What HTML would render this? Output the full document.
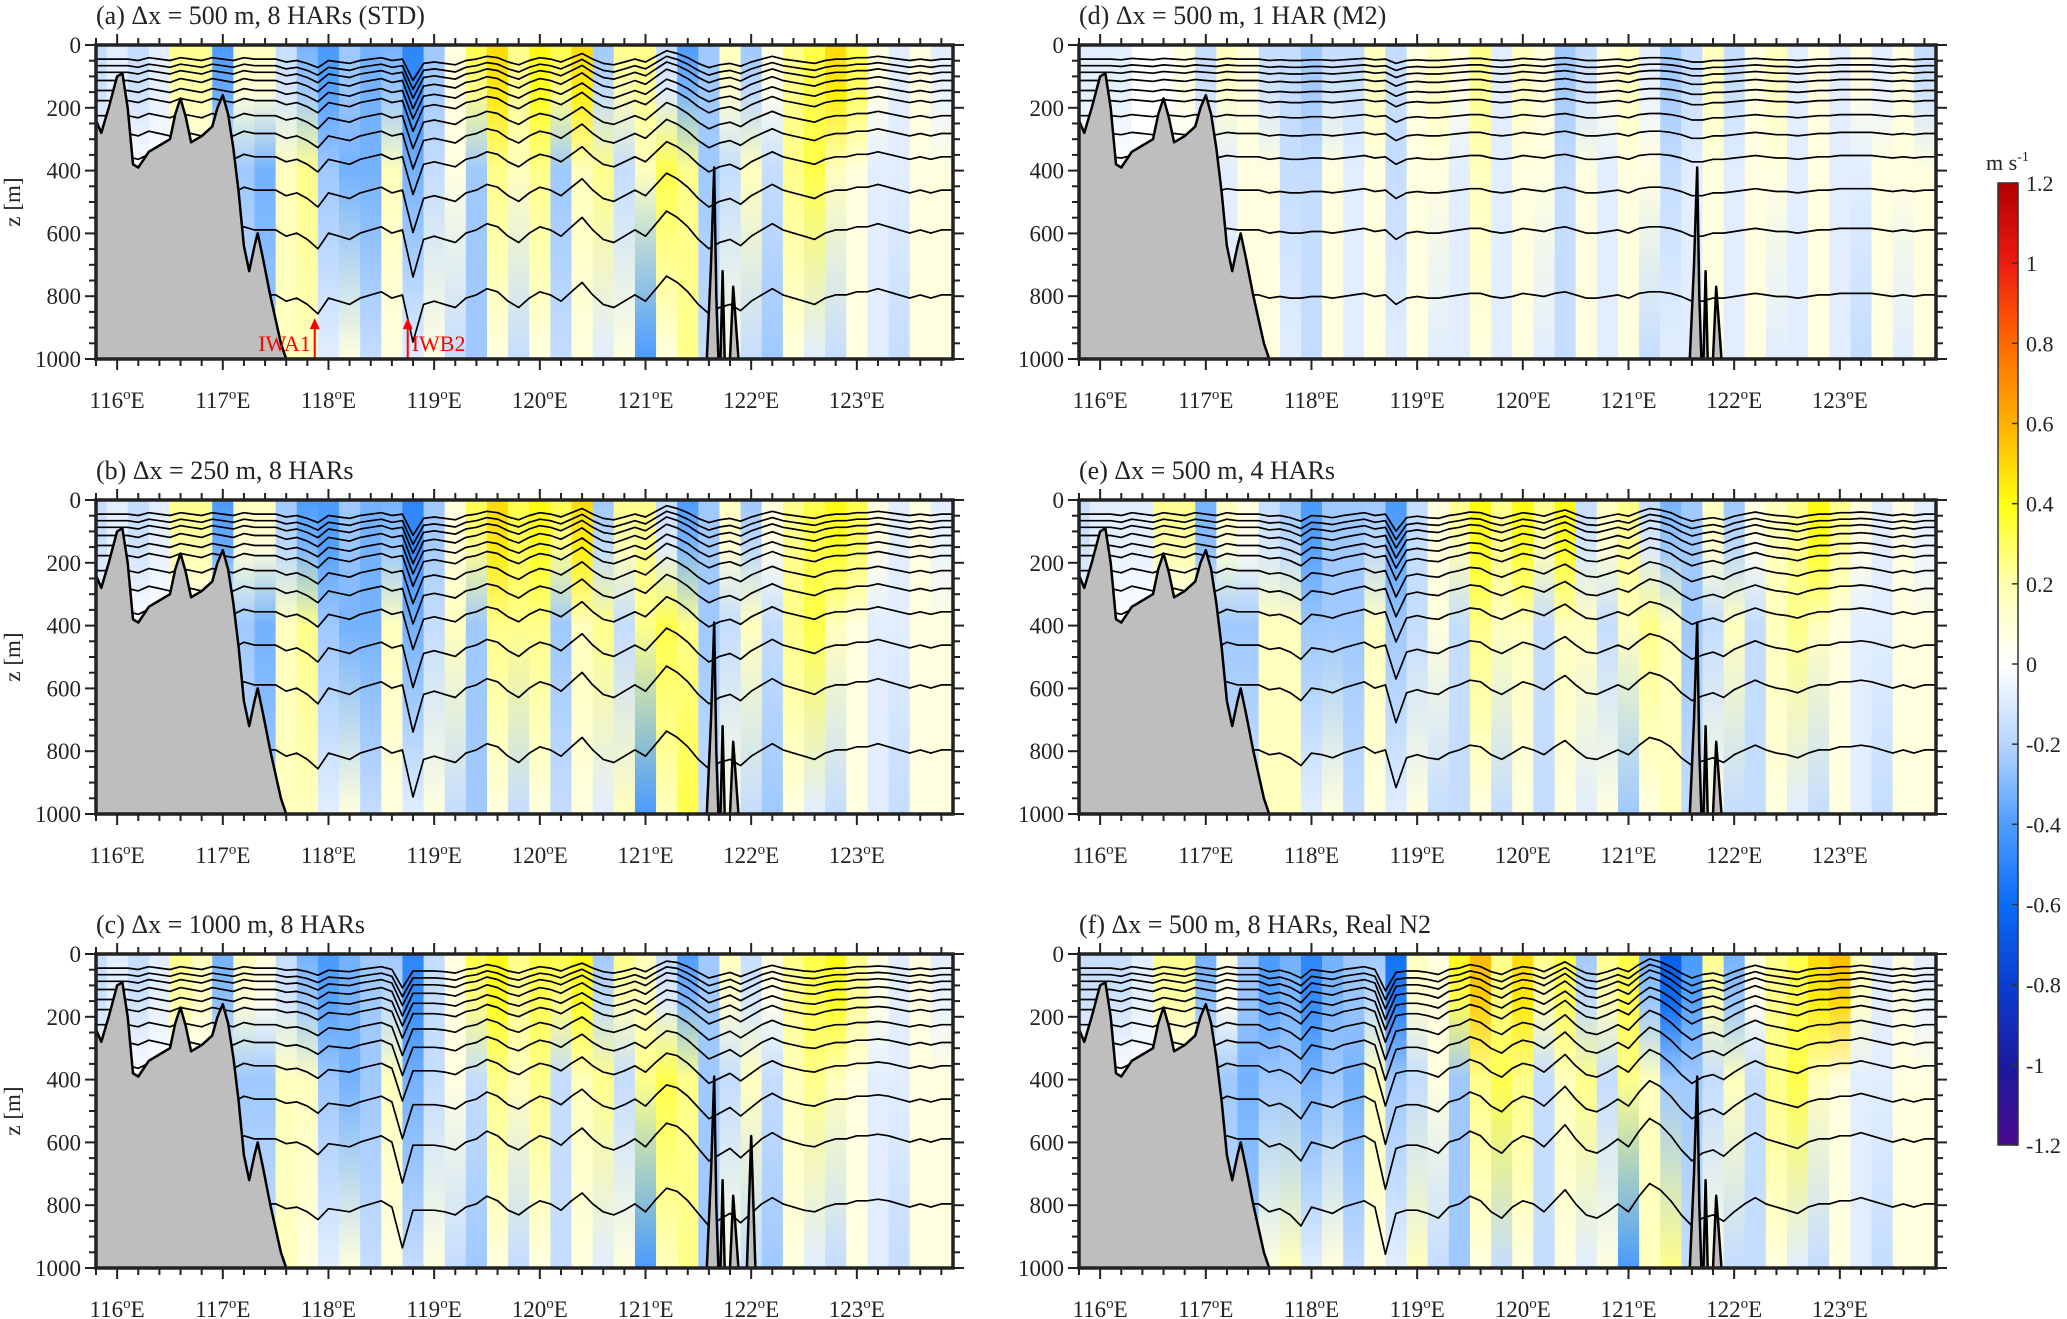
<!DOCTYPE html>
<html><head><meta charset="utf-8">
<style>
html,body{margin:0;padding:0;background:#fff;}
svg{display:block;font-family:"Liberation Serif",serif;}
</style></head>
<body>
<svg id="fig" width="2067" height="1319" viewBox="0 0 2067 1319" xmlns="http://www.w3.org/2000/svg">
<defs id="defs"></defs>
<g id="panels"></g>
<g id="colorbar"></g>
</svg>
<script>
// ---------- data ----------
const lonTicks = [116,117,118,119,120,121,122,123];
const depthTicks = [0,200,400,600,800,1000];
const cbTicks = [1.2,1,0.8,0.6,0.4,0.2,0,-0.2,-0.4,-0.6,-0.8,-1,-1.2];
const cbLabels = ["1.2","1","0.8","0.6","0.4","0.2","0","-0.2","-0.4","-0.6","-0.8","-1","-1.2"];
const isoMeans = [45,66,87,113,145,177,225,282,356,462,589,796];
const isoAmp = [0.45,0.5,0.55,0.6,0.6,0.65,0.7,0.75,0.8,0.9,1,1];
// velocity columns every 0.2 deg from 115.8
const velTopA = [-0.2,-0.1,-0.2,-0.1,0.3,0.3,-0.5,0.2,0.2,-0.2,-0.4,-0.5,-0.3,-0.4,-0.4,-0.6,-0.3,0.1,0.4,0.6,0.3,0.5,0.4,0.6,-0.3,0.3,0.3,-0.2,-0.5,-0.3,0.2,-0.3,0.1,0.3,0.4,0.6,0.4,0.1,-0.1,0.1,-0.1];
const velMidA = [0,0,0,0,0,0,0,-0.3,-0.4,0.2,0.3,-0.3,-0.4,-0.4,0.2,-0.4,-0.2,0.1,-0.3,0.3,0.2,0.3,-0.3,0.2,0.3,-0.2,0.2,0.4,0.3,-0.3,-0.2,0.2,-0.2,0.3,0.4,0.2,0.1,-0.1,-0.1,0.1,0.1];
const velBotA = [0,0,0,0,0,0,0,-0.2,-0.3,0.2,0.2,-0.1,0.1,-0.2,0.1,-0.1,0.1,-0.2,-0.3,0.1,-0.2,0.1,-0.2,0.1,-0.1,0.1,-0.5,0.1,0.3,-0.2,0.1,-0.2,-0.3,0.1,-0.1,-0.2,0.1,-0.1,-0.2,0.1,0.1];
const velTopB = [-0.2,-0.1,-0.2,-0.1,0.3,0.3,-0.5,0.2,0.2,-0.3,-0.5,-0.5,-0.3,-0.4,-0.4,-0.6,-0.3,0.1,0.4,0.6,0.4,0.5,0.4,0.6,-0.3,0.3,0.3,-0.2,-0.5,-0.3,0.2,-0.3,0.1,0.3,0.4,0.5,0.4,0.1,-0.1,0.1,-0.1];
const velMidB = [0,0,0,0,0,0,0,-0.3,-0.4,0.2,0.3,-0.3,-0.4,-0.4,0.2,-0.4,-0.2,0.2,-0.3,0.3,0.3,0.3,-0.3,0.2,0.3,-0.2,0.3,0.4,0.3,-0.3,-0.2,0.2,-0.2,0.3,0.4,0.2,0.1,-0.1,-0.1,0.1,0.1];
const velBotB = [0,0,0,0,0,0,0,-0.2,-0.3,0.2,0.2,-0.1,0.1,-0.2,0.1,-0.1,0.1,-0.2,-0.3,0.1,-0.2,0.1,-0.2,0.1,-0.1,0.2,-0.5,0.2,0.4,-0.2,0.1,-0.2,-0.3,0.1,-0.1,-0.2,0.1,-0.1,-0.2,0.1,0.1];
const velTopC = [-0.2,-0.1,-0.2,-0.1,0.3,0.2,-0.4,0.2,0.1,-0.2,-0.4,-0.5,-0.4,-0.3,-0.3,-0.6,-0.2,0.1,0.4,0.5,0.3,0.4,0.4,0.5,-0.3,0.3,0.2,-0.2,-0.5,-0.3,0.2,-0.2,0.1,0.3,0.4,0.5,0.3,0.1,-0.1,0.1,-0.1];
const velMidC = [0,0,0,0,0,0,0,-0.3,-0.3,0.2,0.2,-0.3,-0.4,-0.3,0.2,-0.4,-0.2,0.1,-0.2,0.3,0.2,0.3,-0.2,0.2,0.3,-0.2,0.3,0.4,0.3,-0.3,-0.2,0.2,-0.2,0.2,0.3,0.2,0.1,-0.1,-0.1,0.1,0.1];
const velBotC = [0,0,0,0,0,0,0,-0.2,-0.2,0.2,0.1,-0.1,0.1,-0.2,0.1,-0.2,0.1,-0.2,-0.3,0.1,-0.2,0.1,-0.2,0.1,-0.1,0.1,-0.5,0.2,0.3,-0.3,0.1,-0.2,-0.3,0.1,-0.1,-0.2,0.1,-0.1,-0.2,0.1,0.1];
const velTopD = [-0.1,-0.1,-0.1,0,0,0.1,-0.2,0.2,0.1,-0.2,-0.2,-0.3,-0.2,-0.2,0.2,-0.2,0.1,0.2,0.1,0.3,-0.1,0.2,0.1,-0.3,-0.2,0.1,0.2,-0.1,-0.3,-0.2,0.2,-0.2,0.1,0.2,-0.1,0.1,-0.1,0.1,-0.1,0.1,-0.2];
const velMidD = [0,0,0,0,0,0,0,-0.1,0.1,0.1,-0.2,-0.2,0.1,-0.1,0.1,-0.2,0.1,0.1,-0.1,0.2,-0.1,0.1,0.1,-0.2,0.1,-0.1,0.1,0.1,-0.2,-0.1,0.1,-0.1,0.1,0.1,-0.1,0.1,-0.1,-0.1,0.1,0.1,0.1];
const velBotD = [0,0,0,0,0,0,0,-0.1,0.1,0.1,-0.1,-0.2,0.1,-0.1,0.1,-0.1,0.1,-0.1,-0.1,0.1,-0.1,0.1,-0.1,-0.2,0.1,-0.1,0.1,-0.2,-0.1,-0.1,0.1,-0.1,0.1,-0.1,-0.1,0.1,-0.1,-0.2,0.1,-0.1,0.1];
const velTopE = [-0.2,-0.1,-0.1,-0.1,0.3,0.3,-0.4,0.2,0.1,-0.2,-0.3,-0.5,-0.3,-0.3,-0.3,-0.5,-0.2,0.1,0.3,0.5,0.3,0.5,0.3,0.5,-0.2,0.2,0.3,-0.2,-0.4,-0.3,0.2,-0.3,0.1,0.2,0.3,0.5,0.3,0.1,-0.1,0.1,-0.1];
const velMidE = [0,0,0,0,0,0,0,-0.3,-0.3,0.2,0.2,-0.3,-0.3,-0.3,0.2,-0.3,-0.2,0.1,-0.2,0.3,0.2,0.2,-0.2,0.2,0.2,-0.2,0.2,0.3,0.2,-0.3,-0.2,0.2,-0.2,0.2,0.3,0.2,0.1,-0.1,-0.1,0.1,0.1];
const velBotE = [0,0,0,0,0,0,0,-0.2,-0.2,0.2,0.2,-0.1,0.1,-0.2,0.1,-0.1,0.1,-0.2,-0.2,0.1,-0.2,0.1,-0.2,0.1,-0.1,0.1,-0.3,0.1,0.2,-0.2,0.1,-0.2,-0.2,0.1,-0.1,-0.2,0.1,-0.1,-0.2,0.1,0.1];
const velTopF = [-0.2,-0.2,-0.2,-0.1,0.3,0.3,-0.4,0.1,-0.3,-0.5,-0.4,-0.6,-0.4,-0.3,-0.3,-0.7,0.2,0.1,0.5,0.7,0.3,0.6,0.3,0.4,-0.3,0.3,0.4,-0.4,-0.8,-0.5,0.3,-0.4,0.1,0.3,0.4,0.6,0.7,0.2,-0.1,0.1,-0.1];
const velMidF = [0,0,0,0,0,0,0,-0.3,-0.4,-0.3,-0.3,-0.4,-0.3,-0.4,0.2,-0.3,-0.2,0.1,-0.3,0.3,0.4,0.3,-0.2,0.2,0.3,-0.2,0.3,0.2,-0.3,-0.3,-0.2,0.2,-0.2,0.3,0.4,0.2,0.1,-0.1,-0.1,0.1,0.1];
const velBotF = [0,0,0,0,0,0,0,-0.2,-0.3,0.1,0.2,-0.1,0.1,-0.2,0.1,-0.1,0.2,-0.2,-0.3,0.1,-0.2,0.1,-0.2,0.1,-0.1,0.1,-0.5,0.2,0.3,-0.2,0.1,-0.2,-0.2,0.1,-0.1,-0.2,0.1,-0.1,-0.2,0.1,0.1];
// isopycnal displacement (m) every 0.1 deg from 115.8
const dispA = [0,0,0,0,10,-10,0,10,-10,0,10,-10,0,10,-10,0,0,0, 20,10,30,60, 10,20,30,10,0,-10,10,0,150,30, 20,30,40,10,0,-20,-10,20,40,10, -10,0,20,-10,-40,0,30,40,20,0, 20,-20,-60,-40,-10,30,60,40,30,50, 20,0,-20,0,10,20,30,10,0,0, -10,-10,-20,-10,0,10,0,10,0,0];
const dispC = [0,0,0,0,10,-10,0,10,-10,0,10,-10,0,10,-10,0,0,0, 15,10,25,50, 15,20,25,10,0,-10,10,140,20,20, 20,25,35,10,0,-25,-10,20,35,10, -10,0,20,-10,-35,0,25,35,20,0, 25,-15,-50,-40,-10,30,70,50,30,60, 30,0,-20,0,10,20,25,10,0,0, -10,-10,-15,-10,0,10,0,10,0,0];
const dispD = [0,0,0,0,5,-5,0,5,-5,0,5,-5,0,5,-5,0,0,0, 10,5,10,10, 5,5,10,5,0,-5,5,0,30,10, 5,10,10,5,0,-5,-5,5,10,5, -5,0,5,-5,-10,0,10,10,5,0, 10,-5,-10,-10,-5,5,20,20,10,10, 5,0,-5,0,5,5,10,5,0,0, -5,-5,-5,-5,0,5,0,5,0,0];
const dispE = [0,0,0,0,10,-10,0,10,-10,0,10,-10,0,10,-10,0,0,0, 15,10,25,50, 10,15,25,10,0,-10,10,0,120,25, 15,25,30,10,0,-15,-10,15,30,10, -10,0,15,-10,-30,0,25,30,15,0, 15,-15,-40,-30,-10,25,50,35,25,40, 15,0,-15,0,10,15,25,10,0,0, -10,-10,-15,-10,0,10,0,10,0,0];
const dispF = [0,0,0,0,10,-10,0,10,-10,0,10,-10,0,10,-10,0,0,0, 25,15,35,70, 10,20,30,10,0,-10,10,160,30,20, 20,30,45,10,0,-25,-10,25,45,10, -10,0,25,-10,-45,0,35,45,25,0, 25,-25,-65,-45,-10,35,70,45,35,55, 25,0,-20,0,10,20,30,10,0,0, -10,-10,-20,-10,0,10,0,10,0,0];
// bathymetry [lon, depth]
const shelfBathy = [[115.8,240],[115.85,280],[115.92,200],[116.0,100],[116.05,90],[116.1,200],[116.15,380],[116.2,390],[116.3,340],[116.4,320],[116.5,300],[116.55,220],[116.6,170],[116.65,230],[116.7,310],[116.8,290],[116.9,260],[116.95,200],[117.0,160],[117.05,220],[117.1,330],[117.15,470],[117.2,640],[117.25,720],[117.3,640],[117.33,600],[117.38,680],[117.45,800],[117.55,950],[117.6,1000]];
const ridgeSpikes = [[[121.58,1000],[121.62,700],[121.65,390],[121.67,800],[121.69,1000]],[[121.71,1000],[121.73,720],[121.75,1000]],[[121.8,1000],[121.83,770],[121.88,1000]]];
const ridgeExtraC = [[[121.96,1000],[122.0,580],[122.04,1000]]];

const cmapVals = [-1.2,-1,-0.8,-0.6,-0.4,-0.2,0,0.2,0.4,0.6,0.8,1,1.2];
const cmapCols = ["#4a0a8c","#1a1a9e","#0a3fd0","#0a6cf5","#4d9dff","#b8d6ff","#ffffff","#ffffb0","#ffff10","#ffb000","#ff6a00","#ee1a10","#b00000"];

// ---------- helpers ----------
const NS = "http://www.w3.org/2000/svg";
function mk(tag, attrs, parent){ const e=document.createElementNS(NS,tag); for(const k in attrs) e.setAttribute(k,attrs[k]); if(parent) parent.appendChild(e); return e; }
function hex(h){return [parseInt(h.substr(1,2),16),parseInt(h.substr(3,2),16),parseInt(h.substr(5,2),16)];}
function cmap(v){
  v=Math.max(-1.2,Math.min(1.2,v));
  for(let i=0;i<cmapVals.length-1;i++){
    if(v<=cmapVals[i+1]){const t=(v-cmapVals[i])/(cmapVals[i+1]-cmapVals[i]);const a=hex(cmapCols[i]),b=hex(cmapCols[i+1]);
      return "rgb("+a.map((c,j)=>Math.round(c+(b[j]-c)*t)).join(",")+")";}
  }
  return cmapCols[cmapCols.length-1];
}
const FADE=0.82;
const LON0=115.8, LON1=123.91;
const defs=document.getElementById('defs');
const panelsG=document.getElementById('panels');

const panels=[
 {id:"a",title:"(a) Δx = 500 m, 8 HARs (STD)",x0:96,y0:45,top:velTopA,mid:velMidA,bot:velBotA,disp:dispA,ylab:true,arrows:true},
 {id:"b",title:"(b) Δx = 250 m, 8 HARs",x0:96,y0:500,top:velTopB,mid:velMidB,bot:velBotB,disp:dispA,ylab:true},
 {id:"c",title:"(c) Δx = 1000 m, 8 HARs",x0:96,y0:954,top:velTopC,mid:velMidC,bot:velBotC,disp:dispC,ylab:true,extra:true},
 {id:"d",title:"(d) Δx = 500 m, 1 HAR (M2)",x0:1079,y0:45,top:velTopD,mid:velMidD,bot:velBotD,disp:dispD},
 {id:"e",title:"(e) Δx = 500 m, 4 HARs",x0:1079,y0:500,top:velTopE,mid:velMidE,bot:velBotE,disp:dispE},
 {id:"f",title:"(f) Δx = 500 m, 8 HARs, Real N2",x0:1079,y0:954,top:velTopF,mid:velMidF,bot:velBotF,disp:dispF}
];
const PW=857, PH=314;

panels.forEach(p=>{
  const X=lon=>p.x0+(lon-LON0)/(LON1-LON0)*PW;
  const Y=z=>p.y0+z/1000*PH;
  const g=mk('g',{},panelsG);
  
  
  const cp=mk('clipPath',{id:'clip-'+p.id},defs);
  mk('rect',{x:p.x0,y:p.y0,width:PW,height:PH},cp);
  const plot=mk('g',{'clip-path':'url(#clip-'+p.id+')'},g);
  const field=mk('g',{},plot);
  
  
  p.top.forEach((v,i)=>{
    const lon=LON0+0.2*i;
    const gid='gr-'+p.id+'-'+i;
    const lg=mk('linearGradient',{id:gid,x1:0,y1:0,x2:0,y2:1},defs);
    mk('stop',{offset:'0','stop-color':cmap(v*FADE)},lg);
    mk('stop',{offset:'0.15','stop-color':cmap((v*0.85+p.mid[i]*0.15)*FADE)},lg);
    mk('stop',{offset:'0.4','stop-color':cmap(p.mid[i]*FADE)},lg);
    mk('stop',{offset:'1','stop-color':cmap(p.bot[i]*FADE)},lg);
    const r=mk('rect',{x:X(lon-0.1),y:p.y0,width:X(lon+0.1)-X(lon-0.1)+0.6,height:PH,fill:'url(#'+gid+')'},field);
    
    
  });
  const iso=mk('g',{fill:'none',stroke:'#000','stroke-width':1.7,'stroke-linejoin':'round'},plot);
  
  
  isoMeans.forEach((m,k)=>{
    const pts=p.disp.map((d,i)=>X(LON0+0.1*i).toFixed(1)+','+Y(m+d*isoAmp[k]).toFixed(1)).join(' ');
    const pl=mk('polyline',{points:pts},iso);
    
    
  });
  const bg=mk('g',{fill:'#bebebe',stroke:'#000','stroke-width':2.5,'stroke-linejoin':'round'},plot);
  
  
  let d='M'+X(LON0)+','+Y(1000)+' '+shelfBathy.map(q=>'L'+X(q[0]).toFixed(1)+','+Y(q[1]).toFixed(1)).join(' ')+' Z';
  const sh=mk('path',{d:d},bg);
  
  
  const spikes=p.extra?ridgeSpikes.concat(ridgeExtraC):ridgeSpikes;
  spikes.forEach(s=>{
    const sp=mk('path',{d:'M'+s.map(q=>X(q[0]).toFixed(1)+','+Y(q[1]).toFixed(1)).join(' L')+' Z'},bg);
    
    
  });
  if(p.arrows){
    const ag=mk('g',{fill:'#f00',stroke:'#f00'},g);
    
    
    [[117.87,'IWA1','end',-4],[118.75,'IWB2','start',4]].forEach(a=>{
      const x=X(a[0]);
      mk('line',{x1:x,y1:Y(995),x2:x,y2:Y(885),'stroke-width':2},ag);
      mk('path',{d:`M${x-5},${Y(905)} L${x},${Y(870)} L${x+5},${Y(905)} Z`,stroke:'none'},ag);
      const t=mk('text',{x:x+a[3],y:Y(975),'text-anchor':a[2],'font-size':22,stroke:'none'},ag);
      t.textContent=a[1];
      
      
    });
  }
  const ax=mk('g',{stroke:'#222','stroke-width':2},g);
  
  
  mk('rect',{x:p.x0,y:p.y0,width:PW,height:PH,fill:'none','stroke-width':3.5},ax);
  for(let i=0;i<=40;i++){
    const lon=LON0+0.2*i; const x=X(lon);
    const major=Math.abs(lon-Math.round(lon))<0.01; const L=major?11:7;
    mk('line',{x1:x,y1:p.y0,x2:x,y2:p.y0-L},ax);
    mk('line',{x1:x,y1:p.y0+PH,x2:x,y2:p.y0+PH+L},ax);
  }
  for(let z=0;z<=1000;z+=50){
    const y=Y(z); const L=(z%200===0)?11:7;
    mk('line',{x1:p.x0,y1:y,x2:p.x0-L,y2:y},ax);
    mk('line',{x1:p.x0+PW,y1:y,x2:p.x0+PW+L,y2:y},ax);
  }
  const lab=mk('g',{'font-size':23,fill:'#222'},g);
  
  
  depthTicks.forEach(z=>{
    const t=mk('text',{x:p.x0-15,y:Y(z)+8,'text-anchor':'end'},lab);
    t.textContent=String(z);
    
    
  });
  lonTicks.forEach(l=>{
    const t=mk('text',{x:X(l),y:p.y0+PH+49,'text-anchor':'middle'},lab);
    
    
    t.appendChild(document.createTextNode(String(l)));
    const s=mk('tspan',{dy:-9,'font-size':15},t); s.textContent='o';
    const e=mk('tspan',{dy:9},t); e.textContent='E';
  });
  const tt=mk('text',{x:p.x0,y:p.y0-21,'font-size':26,fill:'#222'},g);
  tt.textContent=p.title;
  
  
  if(p.ylab){
    const yl=mk('text',{x:20,y:p.y0+PH/2,'font-size':23,'text-anchor':'middle',transform:`rotate(-90 20 ${p.y0+PH/2})`,fill:'#222'},g);
    yl.textContent='z [m]';
    
    
  }
});

const cb=document.getElementById('colorbar');
const CBX=1998,CBW=20,CBT=183,CBB=1145;
const cg=mk('linearGradient',{id:'cbgrad',x1:0,y1:1,x2:0,y2:0},defs);
cmapVals.forEach((v,i)=>mk('stop',{offset:(i/(cmapVals.length-1)).toFixed(3),'stop-color':cmapCols[i]},cg));
const cr=mk('rect',{x:CBX,y:CBT,width:CBW,height:CBB-CBT,fill:'url(#cbgrad)',stroke:'#333','stroke-width':1.5},cb);


cbTicks.forEach((v,i)=>{
  const y=CBT+(1.2-v)/2.4*(CBB-CBT);
  mk('line',{x1:CBX+CBW-6,y1:y,x2:CBX+CBW,y2:y,stroke:'#333','stroke-width':1.5},cb);
  const t=mk('text',{x:CBX+CBW+8,y:y+8,'font-size':22,fill:'#222'},cb);
  t.textContent=cbLabels[i];
  
  
});
const ut=mk('text',{x:1986,y:170,'font-size':22,fill:'#222'},cb);


ut.appendChild(document.createTextNode('m s'));
const us=mk('tspan',{dy:-9,'font-size':14},ut); us.textContent='-1';
</script>
</body></html>
